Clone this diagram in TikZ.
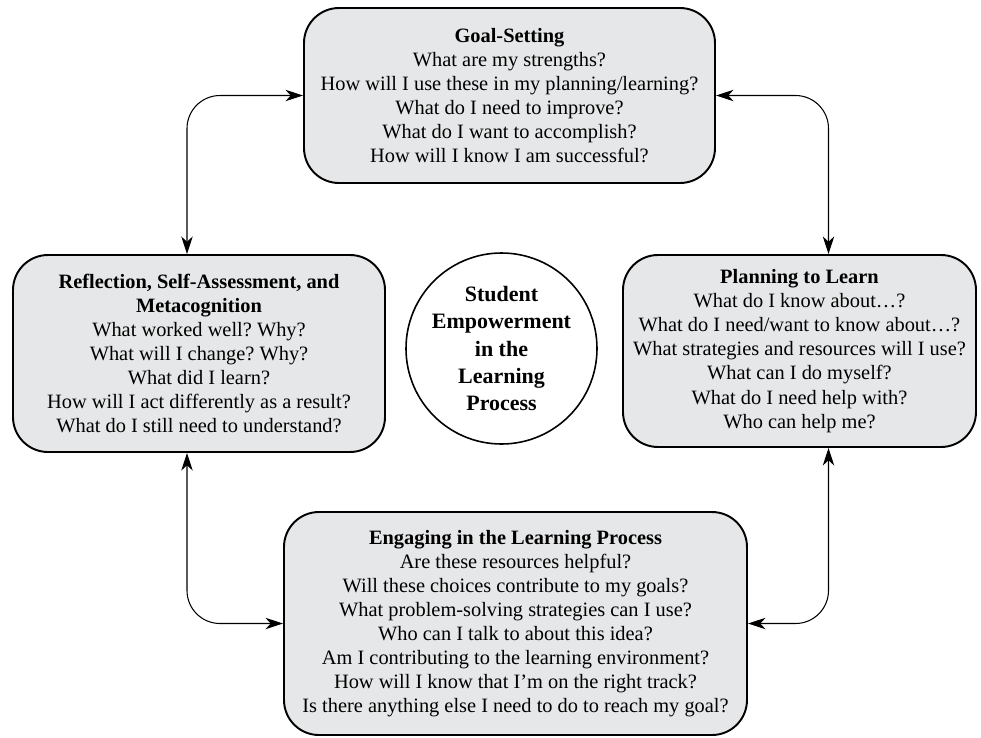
\documentclass[tikz,border=0pt]{standalone}
\usepackage{fontspec}
\setmainfont{Liberation Serif}
\usepackage{tikz}
\usetikzlibrary{arrows.meta,shapes,positioning}
\usepackage{xcolor}
\definecolor{boxgray}{HTML}{E6E7E8}
\frenchspacing

\tikzset{
    qbox/.style={draw=black, line width=1.1pt, fill=boxgray, rounded corners=0.7cm,
        align=center, inner sep=0pt, font=\fontsize{11.6}{13.7}\selectfont},
    hub/.style={draw=black, line width=0.9pt, circle, align=center, inner sep=0pt,
        font=\fontsize{12.5}{15.4}\selectfont\bfseries},
    link/.style={<->, line width=0.6pt, rounded corners=0.66cm,
        >={Stealth[length=10pt,width=6.5pt,inset=3pt]}}
}

\begin{document}
\begin{tikzpicture}
        \useasboundingbox (0,0) rectangle (19.62,-14.74);

        % the four stages
        \node[qbox, minimum width=8.22cm, minimum height=3.5cm] (goal) at (10.19,-1.91)
            {\textbf{Goal-Setting}\\
             What are my strengths?\\
             How will I use these in my planning/learning?\\
             What do I need to improve?\\
             What do I want to accomplish?\\
             How will I know I am successful?};

        \node[qbox, minimum width=7.44cm, minimum height=3.94cm] (refl) at (3.98,-7.07)
            {\textbf{Reflection, Self-Assessment, and}\\
             \textbf{Metacognition}\\
             What worked well? Why?\\
             What will I change? Why?\\
             What did I learn?\\
             How will I act differently as a result?\\
             What do I still need to understand?};

        \node[qbox, minimum width=7.06cm, minimum height=3.84cm] (plan) at (15.99,-7.02)
            {\textbf{Planning to Learn}\\
             What do I know about…?\\
             What do I need/want to know about…?\\
             What strategies and resources will I use?\\
             What can I do myself?\\
             What do I need help with?\\
             Who can help me?};

        \node[qbox, minimum width=9.26cm, minimum height=4.46cm] (engage) at (10.31,-12.47)
            {\textbf{Engaging in the Learning Process}\\
             Are these resources helpful?\\
             Will these choices contribute to my goals?\\
             What problem-solving strategies can I use?\\
             Who can I talk to about this idea?\\
             Am I contributing to the learning environment?\\
             How will I know that I’m on the right track?\\
             Is there anything else I need to do to reach my goal?};

        % centre
        \node[hub, minimum size=3.82cm] (core) at (10.03,-6.97)
            {Student\\ Empowerment\\ in the\\ Learning\\ Process};

        % cycle arrows
        \draw[link] (goal.west) -| ([xshift=-0.24cm]refl.north);
        \draw[link] (goal.east) -| ([xshift=0.58cm]plan.north);
        \draw[link] ([xshift=-0.24cm]refl.south) |- (engage.west);
        \draw[link] ([xshift=0.58cm]plan.south) |- (engage.east);
    \end{tikzpicture}
\end{document}
